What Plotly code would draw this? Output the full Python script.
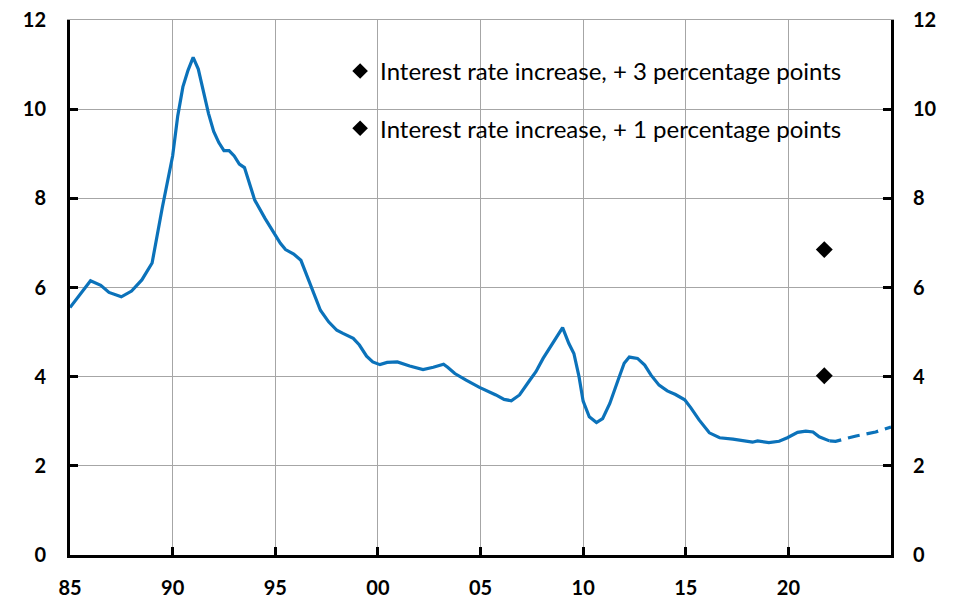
import plotly.graph_objects as go

# Historical series (decimal years, percent)
hist_years = [1985.0, 1985.5, 1986.0, 1986.5, 1986.9, 1987.5, 1988.0, 1988.5, 1989.0, 1989.5,
              1990.0, 1990.25, 1990.5, 1990.75, 1991.0, 1991.25, 1991.5, 1991.75, 1992.0, 1992.25,
              1992.5, 1992.75, 1993.0, 1993.25, 1993.5, 1993.75, 1994.0, 1994.5, 1995.0, 1995.25,
              1995.5, 1995.9, 1996.25, 1996.5, 1996.85, 1997.2, 1997.6, 1998.0, 1998.3, 1998.8,
              1999.1, 1999.45, 1999.75, 2000.1, 2000.45, 2000.95, 2001.55, 2002.2, 2002.7, 2003.2,
              2003.4, 2003.75, 2004.3, 2004.95, 2005.75, 2006.15, 2006.5, 2006.9, 2007.4, 2007.7,
              2008.05, 2008.45, 2009.0, 2009.3, 2009.55, 2009.8, 2010.0, 2010.3, 2010.65, 2010.95,
              2011.3, 2011.7, 2012.0, 2012.25, 2012.65, 2013.0, 2013.3, 2013.7, 2014.1, 2014.5,
              2014.95, 2015.25, 2015.65, 2016.15, 2016.65, 2017.3, 2017.75, 2018.25, 2018.5, 2019.05,
              2019.55, 2019.95, 2020.45, 2020.85, 2021.2, 2021.5, 2022.0]
hist_values = [5.55, 5.85, 6.15, 6.05, 5.89, 5.79, 5.92, 6.17, 6.55, 7.8,
               8.95, 9.85, 10.5, 10.87, 11.16, 10.9, 10.4, 9.9, 9.5, 9.25,
               9.07, 9.07, 8.95, 8.77, 8.69, 8.33, 7.96, 7.55, 7.17, 6.99,
               6.85, 6.75, 6.61, 6.32, 5.87, 5.49, 5.23, 5.04, 4.97, 4.86,
               4.71, 4.46, 4.33, 4.27, 4.32, 4.33, 4.24, 4.16, 4.21, 4.28,
               4.21, 4.07, 3.92, 3.76, 3.59, 3.49, 3.46, 3.59, 3.92, 4.11,
               4.41, 4.69, 5.10, 4.75, 4.52, 4.00, 3.45, 3.10, 2.97, 3.06,
               3.40, 3.92, 4.30, 4.44, 4.41, 4.26, 4.04, 3.81, 3.68, 3.60,
               3.48, 3.30, 3.03, 2.74, 2.63, 2.60, 2.57, 2.53, 2.56, 2.52,
               2.55, 2.63, 2.75, 2.78, 2.76, 2.65, 2.56]

# Projection (dashed)
proj_years = [2022.0, 2022.3, 2023.3, 2024.25, 2025.0]
proj_values = [2.56, 2.55, 2.67, 2.76, 2.87]

# Scenario points
scen_year = [2021.75]
scen_plus3 = [6.85]
scen_plus1 = [4.02]
scen_labels = ["Interest rate increase, + 3 percentage points",
               "Interest rate increase, + 1 percentage points"]

# Axis ticks
x_tickvals = [1985, 1990, 1995, 2000, 2005, 2010, 2015, 2020]
x_ticktext = ["85", "90", "95", "00", "05", "10", "15", "20"]
y_tickvals = [0, 2, 4, 6, 8, 10, 12]

BLUE = "#0B72BA"
GRID = "#A6A6A6"
FONT = "Lato"

fig = go.Figure()
fig.add_trace(go.Scatter(x=hist_years, y=hist_values, mode="lines",
                         line=dict(color=BLUE, width=3.2), showlegend=False,
                         hoverinfo="skip"))
fig.add_trace(go.Scatter(x=proj_years, y=proj_values, mode="lines",
                         line=dict(color=BLUE, width=3.2, dash="12px,7px"),
                         showlegend=False, hoverinfo="skip"))
fig.add_trace(go.Scatter(x=scen_year, y=scen_plus3, mode="markers", name=scen_labels[0],
                         marker=dict(symbol="diamond", size=13, color="black"),
                         legendgroup="a"))
fig.add_trace(go.Scatter(x=scen_year, y=scen_plus1, mode="markers", name=scen_labels[1],
                         marker=dict(symbol="diamond", size=13, color="black"),
                         legendgroup="b"))
# invisible trace so the right and top helper axes render
fig.add_trace(go.Scatter(x=[1985], y=[0], xaxis="x2", yaxis="y2", mode="markers",
                         marker=dict(opacity=0), showlegend=False, hoverinfo="skip"))

axis_common = dict(showline=True, linecolor="black", linewidth=3, automargin=False,
                   ticks="inside", ticklen=8, tickwidth=3, tickcolor="black",
                   tickfont=dict(family=FONT, size=20, color="black", weight="bold"))

# page body has an 8px offset, so margins compensate for it
fig.update_layout(
    width=940, height=590,
    margin=dict(l=62, r=57, t=12, b=43),
    plot_bgcolor="white", paper_bgcolor="white",
    font=dict(family=FONT, color="black"),
    xaxis=dict(range=[1985, 2025], tickvals=x_tickvals, ticktext=x_ticktext,
               showgrid=True, gridcolor=GRID, gridwidth=1, zeroline=False,
               ticklabelstandoff=13, **axis_common),
    xaxis2=dict(overlaying="x", matches="x", side="top", showline=True,
                linecolor=GRID, linewidth=1, showgrid=False, zeroline=False,
                showticklabels=False, ticks="", automargin=False),
    yaxis=dict(range=[0, 12], tickvals=y_tickvals, showgrid=True, gridcolor=GRID,
               gridwidth=1, zeroline=False, ticklabelstandoff=17,
               ticklabeloverflow="allow", **axis_common),
    yaxis2=dict(range=[0, 12], tickvals=y_tickvals, overlaying="y", side="right",
                matches="y", showgrid=False, zeroline=False, ticklabelstandoff=15,
                ticklabeloverflow="allow", **axis_common),
    legend=dict(x=0.329, y=0.946, xanchor="left", yanchor="top",
                font=dict(family=FONT, size=24, color="black"),
                bgcolor="rgba(0,0,0,0)", traceorder="grouped", tracegroupgap=23,
                itemsizing="constant", itemwidth=30),
    showlegend=True,
)

fig.write_html("out.html")
